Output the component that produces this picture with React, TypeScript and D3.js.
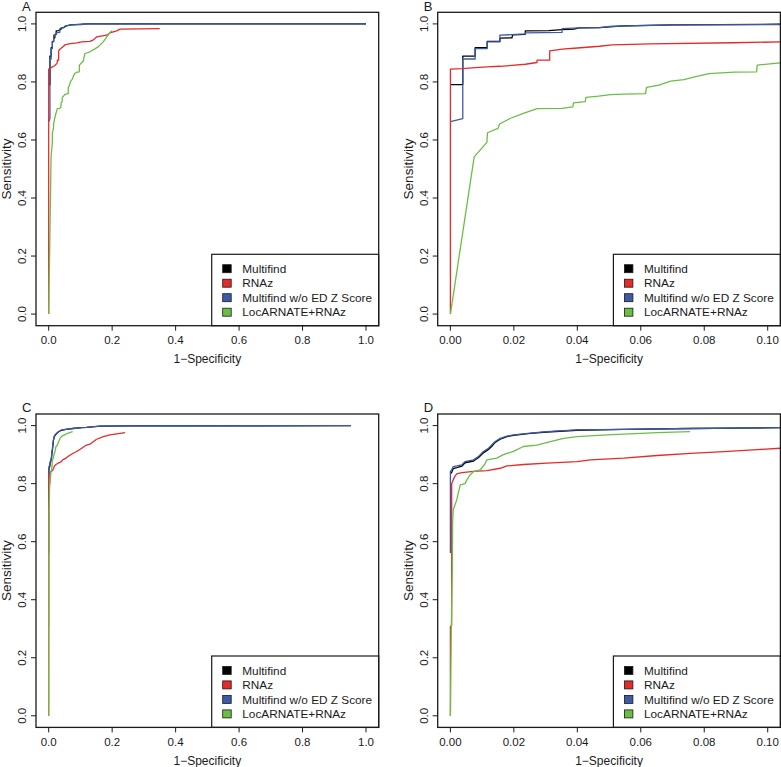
import React, { useEffect } from "react";
import * as d3 from "d3";

// ---------- data ----------
type Pt = [number, number];

const legendLabels = ["Multifind", "RNAz", "Multifind w/o ED Z Score", "LocARNATE+RNAz"];
const seriesColors = ["#000000", "#E62A2A", "#3C5AA8", "#6BBE45"];
const panelLetters = ["A", "B", "C", "D"];
const xTicksFull = [0, 0.2, 0.4, 0.6, 0.8, 1.0];
const xTicksZoom = [0, 0.02, 0.04, 0.06, 0.08, 0.1];
const yTicks = [0, 0.2, 0.4, 0.6, 0.8, 1.0];
const xTitle = "1\u2212Specificity";
const yTitle = "Sensitivity";

// Dataset 1 (panels A and B)
const set1Multifind: Pt[] = [
  [0, 0.791], [0.0039, 0.791], [0.0039, 0.889], [0.0078, 0.889], [0.0078, 0.918], [0.0116, 0.918],
  [0.0116, 0.94], [0.0156, 0.94], [0.0156, 0.951], [0.0194, 0.952], [0.0196, 0.962], [0.0236, 0.964],
  [0.0236, 0.976], [0.031, 0.977], [0.0352, 0.98], [0.039, 0.982], [0.0405, 0.986], [0.047, 0.987],
  [0.0546, 0.993], [0.0704, 0.997], [0.12, 1.0], [1.0, 1.0],
];
const set1RNAz: Pt[] = [
  [0, 0], [0, 0.844], [0.0039, 0.846], [0.0078, 0.849], [0.0116, 0.852], [0.0156, 0.854], [0.0194, 0.857],
  [0.0236, 0.861], [0.0273, 0.867], [0.0273, 0.875], [0.0313, 0.875], [0.0313, 0.907], [0.0352, 0.913],
  [0.04, 0.917], [0.047, 0.923], [0.051, 0.928], [0.063, 0.931], [0.089, 0.935], [0.104, 0.938],
  [0.13, 0.94], [0.141, 0.945], [0.151, 0.955], [0.183, 0.961], [0.193, 0.969], [0.214, 0.976],
  [0.225, 0.982], [0.35, 0.984],
];
const set1NoEDZ: Pt[] = [
  [0, 0.663], [0.0039, 0.674], [0.0039, 0.879], [0.0078, 0.879], [0.0078, 0.915], [0.0116, 0.915],
  [0.0116, 0.938], [0.0156, 0.938], [0.0156, 0.961], [0.0194, 0.963], [0.0236, 0.966], [0.0236, 0.969],
  [0.0352, 0.971], [0.0352, 0.984], [0.0405, 0.986], [0.047, 0.987], [0.051, 0.992], [0.0704, 0.997],
  [0.104, 0.998], [0.12, 1.0], [1.0, 1.0],
];
const set1LocARNATE: Pt[] = [
  [0, 0], [0.0075, 0.542], [0.0115, 0.592], [0.0117, 0.625], [0.015, 0.64], [0.0155, 0.655],
  [0.0188, 0.674], [0.023, 0.692], [0.0273, 0.708], [0.0352, 0.709], [0.0386, 0.714], [0.0388, 0.728],
  [0.0425, 0.732], [0.0427, 0.747], [0.0467, 0.751], [0.0504, 0.756], [0.0546, 0.758], [0.0615, 0.76],
  [0.0618, 0.781], [0.0657, 0.789], [0.0694, 0.803], [0.0736, 0.808], [0.0773, 0.818], [0.0815, 0.829],
  [0.0894, 0.834], [0.0965, 0.835], [0.0967, 0.858], [0.104, 0.866], [0.109, 0.872], [0.114, 0.898],
  [0.13, 0.904], [0.156, 0.921], [0.172, 0.938], [0.183, 0.955], [0.193, 0.97], [0.2, 0.976],
];

// Dataset 2 (panels C and D)
const set2Multifind: Pt[] = [
  [0, 0.835], [0.0004, 0.838], [0.0009, 0.852], [0.002, 0.855], [0.0036, 0.86], [0.0046, 0.872],
  [0.0073, 0.878], [0.0088, 0.889], [0.0104, 0.906], [0.012, 0.918], [0.013, 0.928], [0.0141, 0.942],
  [0.0157, 0.953], [0.0178, 0.962], [0.0199, 0.966], [0.0252, 0.973], [0.0304, 0.978], [0.0399, 0.984],
  [0.0546, 0.987], [0.0757, 0.99], [0.104, 0.993], [0.119, 0.994], [0.162, 0.998], [0.267, 0.999],
  [0.952, 1.0],
];
const set2RNAz: Pt[] = [
  [0, 0], [0, 0.308], [0.0004, 0.311], [0.0004, 0.8], [0.0009, 0.813], [0.0014, 0.825], [0.002, 0.834],
  [0.0036, 0.838], [0.0073, 0.842], [0.0115, 0.845], [0.0157, 0.853], [0.0178, 0.861], [0.023, 0.866],
  [0.0304, 0.871], [0.0399, 0.876], [0.0441, 0.882], [0.0546, 0.888], [0.0652, 0.897], [0.0757, 0.904],
  [0.0862, 0.91], [0.0967, 0.917], [0.104, 0.922], [0.119, 0.933], [0.13, 0.936], [0.151, 0.953],
  [0.172, 0.962], [0.193, 0.968], [0.209, 0.971], [0.241, 0.976],
];
const set2NoEDZ: Pt[] = [
  [0, 0.561], [0, 0.842], [0.0004, 0.847], [0.0009, 0.859], [0.002, 0.861], [0.0036, 0.865],
  [0.0046, 0.876], [0.0073, 0.882], [0.0088, 0.893], [0.0104, 0.911], [0.012, 0.922], [0.013, 0.933],
  [0.0141, 0.945], [0.0157, 0.956], [0.0178, 0.964], [0.0199, 0.968], [0.0252, 0.974], [0.0304, 0.979],
  [0.0399, 0.985], [0.0546, 0.987], [0.0757, 0.99], [0.104, 0.993], [0.119, 0.994], [0.162, 0.998],
  [0.267, 0.999], [0.952, 1.0],
];
const set2LocARNATE: Pt[] = [
  [0, 0], [0.0003, 0.31], [0.0006, 0.5], [0.0007, 0.664], [0.0009, 0.71], [0.002, 0.744],
  [0.0031, 0.796], [0.0046, 0.8], [0.0052, 0.813], [0.0062, 0.83], [0.0073, 0.842], [0.0094, 0.847],
  [0.011, 0.87], [0.0115, 0.882], [0.0146, 0.888], [0.0167, 0.9], [0.0199, 0.911], [0.023, 0.928],
  [0.0273, 0.933], [0.0315, 0.945], [0.0357, 0.956], [0.0399, 0.962], [0.0494, 0.968], [0.0652, 0.976],
  [0.0755, 0.979],
];

// ---------- layout ----------
const W = 781;
const H = 767;
const PITCH = 401.7;
const PL = 36, PT = 12.3, PW = 342.7, PH = 313.4;
const FONT = "'Liberation Sans', Arial, Helvetica, sans-serif";
const INK = "#1a1a1a";

const set1 = [set1Multifind, set1NoEDZ, set1RNAz, set1LocARNATE];
const set2 = [set2Multifind, set2NoEDZ, set2RNAz, set2LocARNATE];
// drawing order: Multifind, w/o ED, RNAz, LocARNATE
const drawColorIdx = [0, 2, 1, 3];

const panels = [
  { letter: panelLetters[0], col: 0, row: 0, data: set1, zoom: false },
  { letter: panelLetters[1], col: 1, row: 0, data: set1, zoom: true },
  { letter: panelLetters[2], col: 0, row: 1, data: set2, zoom: false },
  { letter: panelLetters[3], col: 1, row: 1, data: set2, zoom: true },
];

function Panel({ p, idx }: { p: (typeof panels)[number]; idx: number }) {
  const ox = p.col * PITCH;
  const oy = p.row * PITCH;
  const x = d3
    .scaleLinear()
    .domain(p.zoom ? [-0.004, 0.104] : [-0.04, 1.04])
    .range([PL, PL + PW]);
  const y = d3.scaleLinear().domain([-0.04, 1.04]).range([PT + PH, PT]);
  const line = d3
    .line<Pt>()
    .x((d) => x(d[0]))
    .y((d) => y(d[1]));
  const xt = p.zoom ? xTicksZoom : xTicksFull;
  const fmtX = p.zoom ? d3.format(".2f") : d3.format(".1f");
  const fmtY = d3.format(".1f");
  const clipId = `clip-${idx}`;
  const bottom = PT + PH;
  const right = PL + PW;
  const legW = 167;
  const legH = 71.4;
  const legX = right - legW;
  const legY = bottom - legH;
  return (
    <g transform={`translate(${ox},${oy})`}>
      <defs>
        <clipPath id={clipId}>
          <rect x={PL} y={PT} width={PW} height={PH} />
        </clipPath>
      </defs>
      <g clipPath={`url(#${clipId})`}>
        {p.data.map((s, i) => (
          <path
            key={i}
            d={line(s) || ""}
            fill="none"
            stroke={seriesColors[drawColorIdx[i]]}
            strokeWidth={1.3}
            strokeLinejoin="round"
          />
        ))}
      </g>
      {/* legend */}
      <rect x={legX} y={legY} width={legW} height={legH} fill="#fff" stroke={INK} strokeWidth={1.2} />
      {legendLabels.map((lab, i) => {
        const cy = legY + 14.4 + i * 14.5;
        return (
          <g key={lab}>
            <rect x={legX + 11} y={cy - 4} width={8.5} height={8} fill={seriesColors[i]} stroke={INK} strokeWidth={0.8} />
            <text x={legX + 30.6} y={cy + 4.2} fontSize={11.8} fill={INK} fontFamily={FONT}>
              {lab}
            </text>
          </g>
        );
      })}
      {/* frame */}
      <rect x={PL} y={PT} width={PW} height={PH} fill="none" stroke={INK} strokeWidth={1.3} />
      {/* x axis */}
      {xt.map((t) => (
        <g key={"x" + t}>
          <line x1={x(t)} x2={x(t)} y1={bottom} y2={bottom + 5} stroke={INK} strokeWidth={1} />
          <text x={x(t)} y={bottom + 18.3} textAnchor="middle" fontSize={11.5} fill={INK} fontFamily={FONT}>
            {fmtX(t)}
          </text>
        </g>
      ))}
      <text x={PL + PW / 2} y={bottom + 37.6} textAnchor="middle" fontSize={12} fill={INK} fontFamily={FONT}>
        {xTitle}
      </text>
      {/* y axis */}
      {yTicks.map((t) => (
        <g key={"y" + t}>
          <line x1={PL - 5} x2={PL} y1={y(t)} y2={y(t)} stroke={INK} strokeWidth={1} />
          <text
            transform={`translate(${PL - 10},${y(t)}) rotate(-90)`}
            textAnchor="middle"
            fontSize={11.5}
            fill={INK}
            fontFamily={FONT}
          >
            {fmtY(t)}
          </text>
        </g>
      ))}
      <text
        transform={`translate(${10.8},${PT + PH / 2}) rotate(-90)`}
        textAnchor="middle"
        fontSize={13.5}
        fill={INK}
        fontFamily={FONT}
      >
        {yTitle}
      </text>
      <text x={22} y={10.6} fontSize={13} fill={INK} fontFamily={FONT}>
        {p.letter}
      </text>
    </g>
  );
}

export default function App() {
  useEffect(() => {
    document.body.style.margin = "0";
  }, []);
  return (
    <svg
      width={W}
      height={H}
      viewBox={`0 0 ${W} ${H}`}
      style={{ display: "block", position: "absolute", left: 0, top: 0, background: "#fff" }}
    >
      <rect x={0} y={0} width={W} height={H} fill="#fff" />
      {panels.map((p, i) => (
        <Panel key={p.letter} p={p} idx={i} />
      ))}
    </svg>
  );
}
